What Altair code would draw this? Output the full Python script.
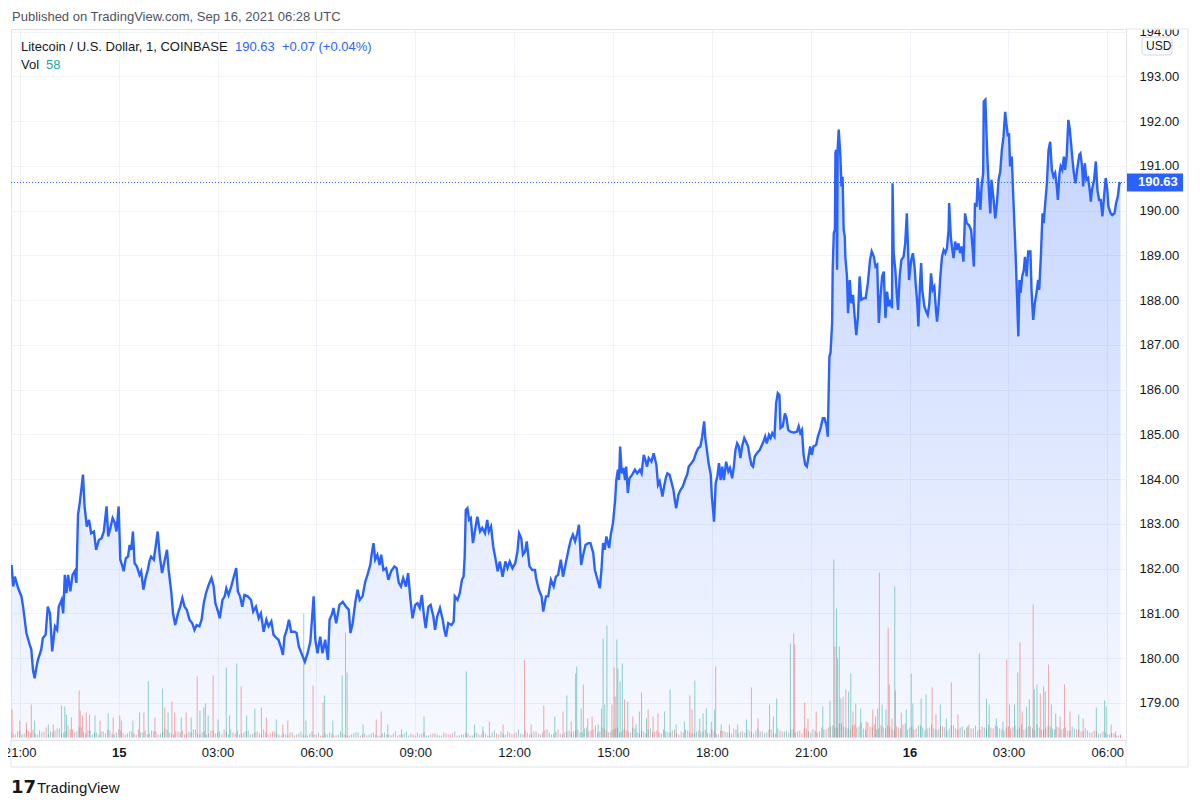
import altair as alt
import pandas as pd

FONT = "Liberation Sans"
BASE = pd.Timestamp("2021-09-14 21:00:00")

# ---- price (minutes after 2021-09-14 21:00 UTC, close price) ----
price_min = [
    -15, -12, -9, -3, 3, 6, 9, 12, 18, 21,
    24, 27, 30, 33, 39, 42, 47, 51, 55, 59,
    64, 68, 71, 76, 79, 82, 85, 88, 92, 96,
    100, 103, 106, 109, 112, 115, 118, 122, 126, 130,
    135, 139, 144, 149, 153, 158, 161, 165, 169, 173,
    176, 180, 183, 187, 189, 193, 197, 200, 203, 206,
    209, 213, 218, 221, 225, 229, 233, 236, 239, 244,
    247, 251, 255, 259, 264, 268, 271, 276, 279, 283,
    288, 292, 296, 300, 304, 309, 314, 318, 322, 327,
    331, 335, 339, 344, 349, 353, 356, 361, 364, 369,
    373, 376, 380, 385, 389, 394, 397, 401, 405, 409,
    415, 421, 425, 430, 435, 439, 444, 449, 453, 458,
    462, 467, 471, 476, 479, 482, 486, 490, 494, 500,
    504, 508,
    515, 519, 524, 529, 535, 538, 542, 547, 551, 556,
    561, 564, 568, 571, 576, 582, 588, 594, 599, 602,
    606, 611, 615, 619, 624, 629, 633, 638, 641, 644,
    647, 651, 655, 658, 662, 667, 671, 676, 682, 686,
    690, 694, 698, 703, 707, 711, 715, 720, 724, 728,
    732, 736, 739, 744, 748, 753, 756, 760, 765, 770,
    773, 776, 780, 786, 790, 792, 797, 801, 805, 808,
    810, 812, 815, 818, 821, 825, 829, 833, 838, 842,
    847, 851, 854, 858, 862, 867, 870, 874, 879, 884,
    888, 892, 897, 902, 906, 909, 913, 916, 920, 923,
    926, 928, 933, 938, 940, 945, 950, 953, 958, 962,
    967, 972, 976, 980, 985, 989, 994, 999, 1003, 1007,
    1011, 1015, 1018, 1022, 1025, 1030, 1035, 1039, 1044, 1047,
    1051, 1056, 1059,
    1062, 1065, 1068, 1073, 1076, 1080, 1084, 1086, 1089, 1091,
    1093, 1096, 1099, 1102, 1104, 1107, 1110, 1115, 1120, 1124,
    1129, 1132, 1136, 1139, 1142, 1145, 1150, 1154, 1159, 1162,
    1165, 1170, 1173, 1176, 1179, 1183, 1187, 1190, 1193, 1195,
    1199, 1203, 1207, 1211, 1215, 1218, 1223, 1227, 1231, 1235,
    1239, 1242, 1246, 1248, 1251, 1254, 1258, 1260, 1264, 1267,
    1270, 1273, 1276, 1279, 1282, 1286, 1290, 1293, 1297, 1300,
    1303, 1306, 1309, 1312, 1315, 1319, 1322, 1326, 1329, 1332,
    1335, 1338, 1342, 1347, 1350, 1354, 1357, 1360, 1364, 1367,
    1370, 1374, 1377, 1380, 1383, 1385, 1389, 1393, 1396, 1399,
    1403, 1409, 1415, 1418, 1421, 1424, 1427, 1430, 1433, 1436,
    1439, 1442, 1445, 1450, 1453, 1458, 1462, 1465, 1469, 1471,
    1474, 1476, 1479, 1480, 1482, 1484, 1485, 1486, 1488, 1489,
    1491, 1494, 1496, 1498, 1500, 1502, 1503, 1506, 1508, 1511,
    1514, 1517, 1520, 1523, 1526, 1529, 1532, 1536, 1540, 1544,
    1548, 1551, 1555, 1558, 1561, 1564, 1567, 1570, 1573, 1576,
    1579, 1582, 1585, 1588, 1589, 1591, 1594, 1597, 1599, 1602,
    1605, 1609, 1612, 1615, 1617, 1619, 1623, 1626, 1629, 1631,
    1634, 1636, 1639, 1641, 1643, 1647, 1650, 1653, 1656, 1659,
    1662, 1665, 1668, 1670, 1673, 1676, 1679, 1682, 1685, 1688,
    1691, 1692, 1695, 1697, 1700, 1703, 1706, 1709, 1712, 1715,
    1718, 1721, 1724, 1728, 1732, 1735, 1737, 1739, 1742, 1744,
    1747, 1749, 1751, 1754, 1755, 1758, 1760, 1762, 1765, 1767,
    1769, 1773, 1776, 1779, 1782, 1785, 1788, 1791, 1794, 1796,
    1799, 1801, 1803, 1806, 1809, 1812, 1814, 1816, 1818, 1820,
    1822, 1825, 1828, 1830, 1833, 1836, 1840, 1842, 1845, 1848,
    1851, 1854, 1856, 1859, 1862, 1864, 1867, 1870, 1873, 1876,
    1879, 1882, 1885, 1888, 1890, 1893, 1895, 1898, 1901, 1903,
    1906, 1909, 1911, 1914, 1916, 1919, 1922, 1925, 1929, 1931,
    1934, 1936, 1939, 1942, 1945, 1948, 1950, 1952, 1956, 1959,
    1962, 1965, 1968, 1971, 1974, 1977, 1980, 1982, 1986, 1989,
    1993, 1996, 1999, 2002, 2004,
]
price_val = [
    182.08, 181.60, 181.82, 181.56, 181.38, 181.15, 180.86, 180.56, 180.30, 180.19,
    179.74, 179.55, 179.78, 179.96, 180.19, 180.45, 180.52, 181.15, 181.00, 180.15,
    180.71, 180.63, 181.15, 181.30, 181.00, 181.86, 181.45, 181.86, 181.49, 181.86,
    181.94, 181.68, 183.20, 183.46, 183.76, 184.10, 183.39, 182.94, 183.09, 182.79,
    182.83, 182.42, 182.64, 182.68, 182.83, 183.39, 182.72, 182.91, 183.13, 183.02,
    182.83, 183.39, 182.20, 182.05, 181.94, 182.23, 182.27, 182.53, 182.42, 182.83,
    182.12, 182.05, 181.86, 181.94, 181.53, 181.79, 181.97, 182.16, 182.27, 182.20,
    182.46, 182.83, 182.27, 181.90, 182.20, 182.42, 181.97, 181.45, 181.00, 180.74,
    181.00, 181.15, 181.34, 181.15, 181.08, 180.86, 180.78, 180.63, 180.74, 180.71,
    180.86, 181.23, 181.45, 181.64, 181.79, 181.60, 181.23, 181.04, 180.89, 181.30,
    181.38, 181.56, 181.41, 181.60, 181.79, 182.01, 181.49, 181.38, 181.15, 181.41,
    181.38, 181.30, 181.04, 181.15, 180.89, 181.00, 180.59, 180.86, 180.71, 180.82,
    180.52, 180.45, 180.41, 180.22, 180.07, 180.48, 180.63, 180.86, 180.59, 180.59,
    180.56, 180.26,
    180.04, 179.92, 180.11, 180.37, 181.38, 180.41, 180.11, 180.48, 180.11, 180.41,
    179.96, 180.86, 180.97, 181.12, 180.78, 181.19, 181.26, 181.15, 181.08, 180.56,
    180.78, 181.26, 181.53, 181.30, 181.38, 181.71, 181.86, 182.08, 182.35, 182.57,
    182.20, 182.31, 182.08, 182.31, 181.97, 182.01, 181.75, 181.94, 182.05, 182.01,
    181.68, 181.60, 181.79, 181.60, 181.90, 181.34, 180.89, 181.19, 181.23, 181.12,
    181.41, 180.93, 180.67, 181.15, 181.19, 180.93, 180.63, 180.93, 181.12, 180.86,
    180.63, 180.48, 180.78, 180.74, 180.82, 181.38, 181.30, 181.45, 181.75, 181.82,
    182.27, 183.31, 183.35, 183.09, 183.13, 182.57, 182.87, 183.16, 182.83, 182.91,
    182.79, 183.09, 182.83, 182.94, 182.49, 182.16, 181.94, 182.16, 181.82, 182.16,
    182.01, 182.16, 182.01, 182.12, 182.38, 182.79, 182.68, 182.31, 182.38, 182.61,
    182.27, 182.05, 181.97, 181.97, 181.79, 181.53, 181.38, 181.04, 181.38, 181.38,
    181.75, 181.60, 181.82, 181.86, 182.20, 181.82, 182.12, 182.42, 182.64, 182.76,
    182.61, 182.79, 182.98, 182.08, 182.27, 182.53, 182.57, 182.57, 182.35, 181.97,
    181.79, 181.56, 181.97,
    182.57, 182.42, 182.72, 182.46, 182.76, 183.02, 183.54, 183.98, 184.21, 183.98,
    184.73, 184.13, 184.25, 183.98, 184.28, 183.69, 184.02, 184.10, 184.21, 184.13,
    184.21, 184.13, 184.54, 184.43, 184.28, 184.47, 184.39, 184.58, 184.32, 183.87,
    183.95, 183.61, 183.83, 184.02, 184.13, 184.10, 183.91, 183.76, 183.50, 183.35,
    183.65, 183.76, 183.83, 183.98, 184.10, 184.28, 184.36, 184.43, 184.58, 184.69,
    184.73, 184.92, 185.29, 184.92, 184.65, 184.36, 184.10, 183.61, 183.05, 183.91,
    184.06, 184.36, 183.98, 184.28, 183.98, 184.39, 184.17, 184.25, 184.02, 184.28,
    184.65, 184.80, 184.73, 184.47, 184.73, 184.92, 184.84, 184.73, 184.50, 184.32,
    184.28, 184.50, 184.58, 184.65, 184.73, 184.84, 184.95, 184.80, 184.99, 184.92,
    185.03, 184.95, 185.70, 185.92, 185.88, 185.14, 185.18, 185.47, 185.36, 185.10,
    185.06, 185.04, 185.06, 185.18, 185.03, 185.10, 184.54, 184.32, 184.28, 184.50,
    184.73, 184.54, 184.73, 184.77, 184.95, 185.14, 185.36, 185.36, 185.18, 184.95,
    186.74, 186.82, 187.49, 188.68, 189.50, 189.57, 191.28, 191.36, 188.68, 191.36,
    191.81, 191.21, 190.54, 190.76, 189.57, 189.42, 188.97, 188.53, 187.71, 188.45,
    187.93, 188.12, 187.63, 187.22, 187.63, 188.53, 188.01, 188.04, 188.04, 188.38,
    188.90, 189.09, 188.97, 188.75, 188.79, 187.49, 188.08, 188.53, 188.64, 187.60,
    188.19, 187.86, 188.01, 187.82, 190.61, 189.05, 188.68, 188.08, 187.78, 188.53,
    188.90, 188.97, 189.27, 189.94, 189.20, 188.45, 188.90, 189.05, 188.75, 188.38,
    187.93, 187.41, 188.38, 188.83, 188.23, 187.86, 187.75, 187.67, 187.93, 188.60,
    188.23, 188.30, 187.78, 187.52, 187.93, 188.53, 188.97, 189.12, 189.05, 189.16,
    189.57, 190.17, 189.42, 189.20, 188.94, 189.31, 189.12, 189.27, 189.05, 189.20,
    188.86, 189.94, 189.72, 189.68, 189.57, 189.12, 188.75, 190.17, 190.09, 190.73,
    190.24, 190.02, 190.54, 190.84, 192.44, 192.48, 191.73, 191.06, 190.31, 189.94,
    190.69, 190.24, 189.83, 190.17, 190.69, 190.87, 191.36, 191.66, 192.21, 191.96,
    191.66, 191.73, 190.99, 191.21, 190.24, 189.35, 188.68, 187.93, 187.19, 188.45,
    188.16, 188.53, 188.68, 188.97, 188.53, 189.09, 189.09, 188.23, 187.56, 187.93,
    188.16, 188.45, 188.23, 188.97, 189.94, 189.72, 190.17, 190.61, 191.36, 191.54,
    190.91, 190.76, 190.84, 190.54, 190.24, 190.84, 190.99, 190.91, 191.21, 190.91,
    191.21, 192.03, 191.88, 191.51, 191.21, 190.84, 190.61, 190.91, 191.25, 191.28,
    190.99, 190.54, 191.06, 190.69, 190.73, 190.46, 190.20, 190.46, 190.69, 191.10,
    190.46, 190.24, 190.24, 189.87, 190.31, 190.73, 190.46, 190.09, 189.94, 189.90,
    189.94, 190.17, 190.31, 190.61, 190.63,
]
last_price = 190.63

# ---- volume spikes (minutes, volume, u=up/green d=down/red) ----
spike_min = [
    -14, 0, 12, 21, 27, 52, 61, 76, 82, 85, 94, 108, 110, 114, 121, 127, 137, 146, 161, 170,
    182, 185, 206, 218, 226, 234, 246, 260, 264, 270, 277, 282, 294, 303, 312, 323, 328, 335, 338, 343,
    352, 361, 376, 382, 395, 403, 413, 428, 440, 449, 467, 479, 488, 517, 521, 534, 552, 555, 570, 587,
    593, 596, 625, 649, 658, 670, 695, 736, 813, 828, 843, 855, 880, 919, 931, 954, 974, 989, 996, 1004,
    1012, 1014, 1022, 1026, 1034, 1042, 1053, 1059, 1062, 1065, 1069, 1078, 1082, 1084, 1087, 1089, 1093, 1097, 1101, 1107,
    1116, 1122, 1128, 1132, 1141, 1144, 1153, 1162, 1174, 1184, 1195, 1210, 1220, 1224, 1229, 1238, 1244, 1250, 1259, 1265,
    1267, 1277, 1292, 1307, 1323, 1332, 1344, 1365, 1372, 1378, 1403, 1409, 1411, 1429, 1435, 1450, 1462, 1475, 1482, 1484,
    1487, 1489, 1492, 1495, 1499, 1504, 1509, 1513, 1517, 1522, 1531, 1541, 1553, 1558, 1562, 1565, 1570, 1577, 1581, 1583,
    1588, 1593, 1594, 1605, 1614, 1623, 1626, 1641, 1650, 1661, 1668, 1676, 1687, 1696, 1708, 1726, 1747, 1760, 1765, 1778,
    1790, 1797, 1802, 1811, 1817, 1821, 1825, 1833, 1838, 1845, 1847, 1852, 1858, 1864, 1867, 1873, 1878, 1886, 1894, 1902,
    1912, 1928, 1936, 1960, 1975, 1978, 1987, 1995, 2004,
]
spike_vol = [
    840, 510, 450, 990, 510, 390, 390, 960, 930, 690, 600, 1410, 810, 660, 750, 690, 660, 510, 720, 600,
    660, 510, 510, 750, 750, 1680, 600, 1470, 900, 750, 1080, 750, 600, 750, 600, 1830, 810, 900, 1020, 660,
    1860, 540, 2100, 660, 2220, 1530, 660, 870, 900, 600, 540, 390, 510, 3720, 510, 1560, 1050, 1260, 510, 1860,
    3150, 1950, 390, 540, 780, 390, 240, 630, 1980, 390, 330, 480, 390, 2340, 390, 960, 630, 780, 1260, 480,
    1920, 2130, 870, 1590, 570, 630, 390, 870, 2970, 990, 3360, 990, 2100, 1230, 2940, 2070, 1680, 2220, 1140, 1080,
    630, 390, 780, 1350, 570, 840, 630, 720, 780, 1440, 390, 480, 1260, 840, 1710, 570, 720, 870, 480, 840,
    2130, 390, 390, 390, 540, 1500, 570, 990, 630, 1170, 2820, 3120, 2790, 1050, 570, 780, 930, 1110, 5340, 2730,
    3870, 2370, 2730, 1170, 1230, 1440, 1380, 1920, 780, 1020, 870, 480, 840, 630, 870, 4950, 990, 840, 3300, 1590,
    570, 4530, 1410, 750, 840, 1920, 1020, 1170, 1290, 1500, 690, 990, 570, 1650, 690, 330, 2520, 1170, 990, 570,
    480, 2340, 990, 990, 1950, 2850, 780, 930, 1140, 3990, 1440, 1590, 1320, 1530, 1380, 2190, 990, 720, 630, 1590,
    780, 690, 570, 900, 1110, 930, 390, 180, 58,
]
spike_dir = (
    "dddduudduuddddddudud" "dduddudududdududuudu"
    "duuuuduuddudduudduuu" "duudduuuuuudddddudud"
    "uuuddduduuuddduuuudu" "duuuuddduuuudduuuuuu"
    "dudduddd" "uuuddddduuud"
    "uduudduuduudduuduudd" "dudduuuuudduudduuuuu"
    "uduuudduuduudduduudd" "duduuuddduduudduuduu"
    "uddduudduu" "uuddudd"
    "uuddddududuuuuuuudu" "uudduuu"
)

# ---- background volume, two interleaved series (one bar every 8 minutes each) ----
bg_vol = [
    150, 90, 210, 120, 180, 240, 90, 150, 300, 180,
    210, 270, 150, 360, 240, 180, 300, 120, 210, 150,
    90, 180, 240, 120, 150, 210, 90, 180, 120, 240,
    150, 90, 210, 180, 120, 270, 150, 90, 180, 210,
    120, 150, 240, 90, 180, 120, 210, 150, 90, 180,
    240, 120, 90, 150, 210, 120, 180, 90, 150, 120,
    180,
    90, 120, 60, 150, 90, 180, 60, 120, 90, 150,
    60, 90, 120, 60, 180, 90, 60, 120, 150, 90,
    60, 120, 90, 60, 150, 90, 120, 60, 90, 180,
    120, 60, 90, 150, 60, 120, 90, 60, 120, 90,
    180, 60, 90, 120, 60, 150, 90, 120, 60, 210,
    90, 120, 180, 90, 150, 120, 210, 90, 180, 120,
    150, 240, 90, 180, 120, 150, 210,
    180, 240, 150, 300, 210, 360, 180, 270, 150, 240,
    300, 180, 210, 150, 270, 120, 180, 240, 150, 210,
    120, 180, 150, 240, 90, 150, 210, 120, 180, 150,
    240, 120, 180, 90, 210, 150, 120, 240, 180, 150,
    210, 120, 270, 180, 150, 240, 120, 210, 180, 150,
    240, 180, 120, 270, 150, 210, 180, 240, 300,
    360, 270, 420, 300, 240, 390, 330, 270, 450, 300,
    240, 360, 270, 330, 210, 300, 390, 240, 330, 270,
    360, 210, 300, 270, 240, 330, 210, 360, 270, 300,
    240, 390, 270, 210, 330, 240, 300, 360, 270, 210,
    330, 300, 240, 390, 270, 330, 210, 300, 240, 360,
    270, 330, 240, 300, 210, 270, 240, 180, 210, 150,
    180, 120, 150, 90, 120, 60,
]
bg_vol2 = [
    120, 180, 90, 240, 150, 120, 210, 180, 90, 150,
    270, 120, 180, 240, 150, 300, 180, 210, 90, 150,
    180, 120, 210, 90, 240, 150, 120, 180, 90, 150,
    210, 120, 180, 90, 150, 240, 120, 180, 150, 90,
    180, 240, 120, 150, 90, 210, 120, 180, 240, 90,
    150, 210, 120, 180, 90, 150, 120, 240, 90, 180,
    120,
    60, 90, 150, 60, 120, 90, 60, 180, 90, 60,
    120, 150, 60, 90, 120, 60, 90, 150, 60, 120,
    90, 150, 60, 120, 90, 60, 180, 90, 120, 60,
    90, 150, 120, 60, 90, 120, 60, 150, 90, 120,
    60, 90, 150, 60, 120, 90, 180, 60, 150, 120,
    180, 90, 150, 120, 240, 90, 150, 120, 180, 90,
    210, 150, 120, 240, 90, 180, 150,
    210, 150, 270, 180, 240, 150, 300, 210, 180, 270,
    150, 240, 180, 300, 150, 210, 120, 270, 180, 150,
    240, 150, 210, 120, 180, 240, 150, 120, 210, 180,
    150, 240, 120, 210, 180, 150, 270, 120, 180, 240,
    150, 210, 180, 120, 240, 150, 270, 180, 210, 240,
    150, 210, 270, 180, 240, 150, 300, 240, 330,
    300, 420, 330, 270, 360, 300, 450, 240, 330, 390,
    270, 300, 360, 240, 330, 270, 420, 300, 240, 360,
    300, 270, 390, 240, 330, 300, 270, 360, 240, 330,
    300, 270, 360, 240, 300, 390, 270, 330, 240, 300,
    270, 360, 300, 240, 330, 270, 390, 240, 300, 330,
    240, 300, 270, 210, 330, 240, 180, 270, 150, 210,
    120, 180, 90, 150, 60, 90,
]
bg_dir = (
    "uddudduudu" "duuddudduu" "dudduududd" "uudduduudd" "duduuddudu"
    "udduuddudd" "duudduudud" "ududdudduu" "dduuduuddu" "uddududuud"
    "duudduddud" "uduudduudd" "dduduuddud" "uudduddudu" "duuddudduu"
    "uddudduudu" "dudduududd" "uduuddudud" "dduudduudu" "udduuduudd"
    "duddudduud" "uuddududdu" "ddudduuddu" "uduudduudu" "duuddudduu"
    "udduddudud"
)
bg_dir2 = (
    "duudduudud" "ududdudduu" "uddudduudu" "dduduuddud" "uudduddudu"
    "dudduududd" "uduuddudud" "duddudduud" "uuddududdu" "udduuduudd"
    "ddudduuddu" "duuddudduu" "uduudduudu" "udduddudud" "duudduddud"
    "uddududuud" "dduuduuddu" "uudduduudd" "duduuddudu" "udduuddudd"
    "dduudduudu" "uduudduudd" "duuddudduu" "uddudduudu" "dudduududd"
    "uudduddudu"
)

x_ticks = ["2021-09-14 21:00", "2021-09-15 00:00", "2021-09-15 03:00", "2021-09-15 06:00",
           "2021-09-15 09:00", "2021-09-15 12:00", "2021-09-15 15:00", "2021-09-15 18:00",
           "2021-09-15 21:00", "2021-09-16 00:00", "2021-09-16 03:00", "2021-09-16 06:00"]
y_ticks = list(range(179, 195))


def iso(m):
    return (BASE + pd.Timedelta(minutes=m)).strftime("%Y-%m-%dT%H:%M:%SZ")


def ms(s):
    return int(pd.Timestamp(s).value // 10**6)


price_df = pd.DataFrame({"t": [iso(m) for m, _ in zip(price_min, price_val)],
                         "p": [v for _, v in zip(price_min, price_val)]})

vrows = []
for i, v in enumerate(bg_vol):
    vrows.append({"t": iso(-16 + 8 * i), "v": v, "dir": bg_dir[i % len(bg_dir)]})
for i, v in enumerate(bg_vol2):
    vrows.append({"t": iso(-12 + 8 * i), "v": v, "dir": bg_dir2[i % len(bg_dir2)]})
for i, (m, v) in enumerate(zip(spike_min, spike_vol)):
    vrows.append({"t": iso(m), "v": v, "dir": spike_dir[i % len(spike_dir)]})
vol_df = pd.DataFrame(vrows)

W, H = 1115, 711
Y_DOM = [178.17, 194.06]
X_DOM = [ms("2021-09-14 20:44"), ms("2021-09-16 06:34")]

x_axis = alt.Axis(
    values=[ms(s) for s in x_ticks],
    labelExpr="utchours(datum.value) == 0 ? utcFormat(datum.value, '%-d') : utcFormat(datum.value, '%H:%M')",
    labelFontWeight={"condition": {"test": "utchours(datum.value) == 0", "value": "bold"}, "value": "normal"},
    grid=True, gridColor="#f0f3fa", domain=False, ticks=False, tickSize=0,
    labelPadding=6, labelFontSize=13, labelColor="#131722", labelFont=FONT,
    title=None, labelOverlap=False, labelFlush=False,
)
x_enc = alt.X("t:T", scale=alt.Scale(type="utc", domain=X_DOM), axis=x_axis)
y_scale = alt.Scale(domain=Y_DOM, zero=False, nice=False)

area = alt.Chart(price_df).mark_area(
    clip=True,
    color=alt.Gradient(
        gradient="linear",
        stops=[alt.GradientStop(color="rgba(41,98,255,0.04)", offset=0),
               alt.GradientStop(color="rgba(41,98,255,0.28)", offset=1)],
        x1=1, x2=1, y1=1, y2=0,
    ),
).encode(
    x=x_enc,
    y=alt.Y("p:Q", scale=y_scale, axis=alt.Axis(
        orient="right", values=y_ticks, format=".2f", grid=True, gridColor="#f0f3fa",
        domain=False, ticks=False, tickSize=0, labelPadding=13, labelFontSize=13,
        labelColor="#131722", labelFont=FONT, title=None, labelOverlap=False, labelFlush=False)),
    y2=alt.datum(Y_DOM[0]),
)

vol = alt.Chart(vol_df).mark_rule(strokeWidth=1, opacity=0.5, clip=True).encode(
    x=x_enc,
    y=alt.Y("v:Q", scale=alt.Scale(domain=[-75, 21255], nice=False, zero=False), axis=None),
    y2=alt.datum(0),
    color=alt.Color("dir:N", scale=alt.Scale(domain=["u", "d"], range=["#26a69a", "#ef5350"]), legend=None),
)

line = alt.Chart(price_df).mark_line(color="#2962ff", strokeWidth=2.4, clip=True).encode(
    x=x_enc, y=alt.Y("p:Q", scale=y_scale, axis=None))

last_df = pd.DataFrame({"p": [last_price], "label": [f"{last_price:.2f}"]})
dotted = alt.Chart(last_df).mark_rule(color="#2962ff", strokeWidth=1, strokeDash=[1, 2]).encode(
    x=alt.value(0), x2=alt.value(W), y=alt.Y("p:Q", scale=y_scale, axis=None))
last_box = alt.Chart(last_df).mark_rule(color="#2962ff", strokeWidth=18).encode(
    x=alt.value(W + 1), x2=alt.value(W + 57), y=alt.Y("p:Q", scale=y_scale, axis=None))
last_txt = alt.Chart(last_df).mark_text(color="white", font=FONT, fontSize=13, fontWeight="bold",
                                        align="left", baseline="middle").encode(
    x=alt.value(W + 12), y=alt.Y("p:Q", scale=y_scale, axis=None), text="label:N")

price_top = alt.layer(line, dotted, last_box, last_txt)

one = pd.DataFrame({"a": [0]})
BORDER = "#e0e3eb"


def rule(x, x2, y, y2):
    return alt.Chart(one).mark_rule(color=BORDER, strokeWidth=1).encode(
        x=alt.value(x), x2=alt.value(x2), y=alt.value(y), y2=alt.value(y2))


def text(s, x, y, size=13, color="#131722", weight="normal", font=FONT):
    return alt.Chart(one).mark_text(text=s, font=font, fontSize=size, color=color, fontWeight=weight,
                                    align="left", baseline="middle").encode(
        x=alt.value(x), y=alt.value(y))


cover = alt.Chart(one).mark_rect(color="white").encode(
    x=alt.value(W + 1), x2=alt.value(W + 66), y=alt.value(-21), y2=alt.value(0.5))
usd_box = alt.Chart(one).mark_rect(fill="white", stroke="#d1d4dc", strokeWidth=1, cornerRadius=3).encode(
    x=alt.value(W + 16), x2=alt.value(W + 46), y=alt.value(8), y2=alt.value(26))

deco = alt.layer(
    cover,
    rule(W, W + 62, 0, 0),
    rule(W + 62, W + 62, 0, 738),
    rule(0, W + 62, 738, 738),
    rule(0, 0, H, 738),
    rule(W, W, H, 738),
    usd_box,
    text("USD", W + 20, 17, size=12),
    text("Published on TradingView.com, Sep 16, 2021 06:28 UTC", 1, -12, color="#50535e"),
    text("Litecoin / U.S. Dollar, 1, COINBASE", 10, 18),
    text("190.63", 224, 18, color="#2962ff"),
    text("+0.07 (+0.04%)", 271, 18, color="#2962ff"),
    text("Vol", 10, 36),
    text("58", 35, 36, color="#26a69a"),
    text("17", 0, 759, size=18, weight="bold", font="DejaVu Sans"),
    text("TradingView", 26, 759, size=15),
)

chart = alt.layer(area, vol, price_top, deco).resolve_scale(y="independent").properties(
    width=W, height=H,
    padding={"left": 3, "top": 21, "right": 66, "bottom": 60},
    autosize=alt.AutoSizeParams(type="none"),
    background="white",
).configure_view(stroke=BORDER, strokeWidth=1)

chart.save("out.html", embed_options={"renderer": "svg", "actions": False})
